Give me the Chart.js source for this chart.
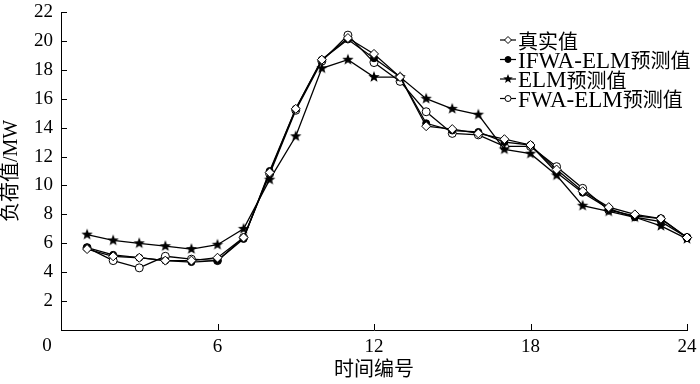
<!DOCTYPE html>
<html>
<head>
<meta charset="utf-8">
<script src="https://cdn.jsdelivr.net/npm/chart.js@4/dist/chart.umd.min.js"></script>
<style>
  html, body { margin: 0; padding: 0; background: #fff; }
  #wrap { width: 700px; height: 384px; position: relative; }
</style>
</head>
<body>
<div id="wrap"><canvas id="myChart"></canvas></div>
<script>
// time index
var hours = [1, 2, 3, 4, 5, 6, 7, 8, 9, 10, 11, 12, 13, 14, 15, 16, 17, 18, 19, 20, 21, 22, 23, 24];
var actual = [5.6, 5.1, 5.0, 4.8, 4.8, 5.0, 6.4, 10.9, 15.3, 18.7, 20.2, 19.1, 17.5, 14.1, 13.9, 13.6, 13.2, 12.8, 11.1, 9.6, 8.5, 8.0, 7.7, 6.4];
var ifwaElm = [5.7, 5.2, 5.0, 4.8, 4.7, 4.8, 6.3, 11.0, 15.3, 18.7, 20.1, 18.8, 17.5, 14.3, 13.8, 13.7, 13.0, 12.8, 10.9, 9.5, 8.4, 7.8, 7.5, 6.4];
var elm = [6.6, 6.2, 6.0, 5.8, 5.6, 5.9, 7.0, 10.4, 13.4, 18.1, 18.7, 17.5, 17.5, 16.0, 15.3, 14.9, 12.5, 12.2, 10.7, 8.6, 8.2, 7.8, 7.2, 6.3];
var fwaElm = [5.7, 4.8, 4.3, 5.1, 4.9, 4.8, 6.4, 10.8, 15.2, 18.6, 20.4, 18.5, 17.2, 15.1, 13.6, 13.5, 12.7, 12.7, 11.3, 9.8, 8.3, 7.9, 7.7, 6.4];
var seriesNames = ['真实值', 'IFWA-ELM预测值', 'ELM预测值', 'FWA-ELM预测值'];
var xTicks = [0, 6, 12, 18, 24];

var FONT = '"Liberation Serif", "Noto Sans CJK SC", serif';
var CJK = '"Noto Sans CJK SC", serif';

function pts(arr) {
  return hours.map(function (h, i) { return { x: h, y: arr[i] }; });
}

// five point star marker (Chart.js 'star' is an asterisk)
function makeStar(r) {
  var c = document.createElement('canvas');
  var s = Math.ceil(r * 2 + 2);
  c.width = s; c.height = s;
  var g = c.getContext('2d');
  g.beginPath();
  for (var i = 0; i < 10; i++) {
    var rr = i % 2 === 0 ? r : r * 0.42;
    var a = -Math.PI / 2 + i * Math.PI / 5;
    var px = s / 2 + rr * Math.cos(a), py = s / 2 + rr * Math.sin(a);
    if (i === 0) g.moveTo(px, py); else g.lineTo(px, py);
  }
  g.closePath();
  g.fillStyle = '#000';
  g.fill();
  return c;
}
var star = makeStar(6);
var starSmall = makeStar(5);

// latin runs in serif, chinese runs in CJK font
function drawMixed(ctx, text, x, y) {
  var runs = text.match(/[\x00-\x7f]+|[^\x00-\x7f]+/g);
  runs.forEach(function (r) {
    var latin = /^[\x00-\x7f]/.test(r);
    ctx.font = latin ? '23px "Liberation Serif", serif' : '20px ' + CJK;
    ctx.fillText(r, x, latin ? y + 1 : y);
    x += ctx.measureText(r).width;
  });
}

// inward ticks + shifted "0" + legend
var extras = {
  id: 'extras',
  afterDraw: function (chart) {
    var ctx = chart.ctx;
    var xs = chart.scales.x, ys = chart.scales.y;
    var ca = chart.chartArea;
    ctx.save();
    ctx.strokeStyle = '#000';
    ctx.lineWidth = 1;
    ctx.beginPath();
    ys.ticks.forEach(function (t) {
      if (t.value === 0) return;
      var y = Math.round(ys.getPixelForValue(t.value)) + 0.5;
      ctx.moveTo(ca.left, y); ctx.lineTo(ca.left + 6, y);
    });
    xs.ticks.forEach(function (t) {
      if (t.value === 0) return;
      var x = Math.round(xs.getPixelForValue(t.value)) + 0.5;
      ctx.moveTo(x, ca.bottom); ctx.lineTo(x, ca.bottom - 6);
    });
    ctx.stroke();

    ctx.fillStyle = '#000';
    ctx.font = '19px ' + FONT;
    ctx.textAlign = 'center';
    ctx.textBaseline = 'middle';
    ctx.fillText('0', xs.getPixelForValue(0) - 14, ca.bottom + 16);

    // legend
    var lx = 500, ly = 40, step = 19.5;
    ctx.textAlign = 'left';
    chart.data.datasets.forEach(function (ds, i) {
      var y = ly + i * step;
      ctx.beginPath();
      ctx.lineWidth = 1.2;
      ctx.moveTo(lx, y); ctx.lineTo(lx + 16, y);
      ctx.stroke();
      var cx = lx + 8;
      ctx.lineWidth = 1;
      if (ds.pointStyle === 'rectRot') {
        ctx.beginPath();
        ctx.moveTo(cx, y - 3.5); ctx.lineTo(cx + 3.5, y); ctx.lineTo(cx, y + 3.5); ctx.lineTo(cx - 3.5, y); ctx.closePath();
        ctx.fillStyle = '#fff'; ctx.fill(); ctx.stroke();
      } else if (ds.pointStyle === 'circle') {
        ctx.beginPath();
        ctx.arc(cx, y, 3, 0, Math.PI * 2);
        ctx.fillStyle = ds.pointBackgroundColor; ctx.fill(); ctx.stroke();
      } else {
        ctx.drawImage(starSmall, cx - starSmall.width / 2, y - starSmall.height / 2);
      }
      ctx.fillStyle = '#000';
      drawMixed(ctx, ds.label, lx + 18, y + 1);
    });
    ctx.restore();
  }
};

new Chart(document.getElementById('myChart'), {
  type: 'line',
  data: {
    datasets: [
      { label: seriesNames[0], data: pts(actual), pointStyle: 'rectRot', pointRadius: 4.5, pointBackgroundColor: '#fff' },
      { label: seriesNames[1], data: pts(ifwaElm), pointStyle: 'circle', pointRadius: 3.5, pointBackgroundColor: '#000' },
      { label: seriesNames[2], data: pts(elm), pointStyle: star, pointRadius: 6, pointBackgroundColor: '#000' },
      { label: seriesNames[3], data: pts(fwaElm), pointStyle: 'circle', pointRadius: 4, pointBackgroundColor: '#fff' }
    ].map(function (d) {
      d.borderColor = '#000';
      d.borderWidth = 1.3;
      d.pointBorderColor = '#000';
      d.pointBorderWidth = 1;
      d.tension = 0;
      d.clip = false;
      return d;
    })
  },
  options: {
    responsive: true,
    maintainAspectRatio: false,
    animation: false,
    layout: { padding: { top: 12, right: 13, left: 0, bottom: 0 } },
    plugins: { legend: { display: false }, tooltip: { enabled: false } },
    scales: {
      x: {
        type: 'linear',
        min: 0, max: 24,
        afterBuildTicks: function (s) { s.ticks = xTicks.map(function (v) { return { value: v }; }); },
        afterFit: function (s) { s.height = 54; s.paddingLeft = 0; s.paddingRight = 0; },
        grid: { display: false, drawTicks: false },
        border: { display: true, color: '#000', width: 1 },
        ticks: {
          color: '#000', padding: 6, maxRotation: 0,
          font: { family: FONT, size: 19 },
          callback: function (v) { return v === 0 ? '' : v; }
        },
        title: { display: true, text: '时间编号', color: '#000', font: { family: FONT, size: 20 }, padding: { top: 0, bottom: 1 } }
      },
      y: {
        min: 0, max: 22,
        ticks: {
          stepSize: 2, color: '#000', padding: 8,
          font: { family: FONT, size: 19 },
          callback: function (v) { return v === 0 ? '' : v; }
        },
        afterFit: function (s) { s.width = 61; s.paddingTop = 0; s.paddingBottom = 0; },
        grid: { display: false, drawTicks: false },
        border: { display: true, color: '#000', width: 1 },
        title: { display: true, text: '负荷值/MW', color: '#000', font: { family: FONT, size: 20 }, padding: { top: 0, bottom: 0 } }
      }
    }
  },
  plugins: [extras]
});
</script>
</body>
</html>
